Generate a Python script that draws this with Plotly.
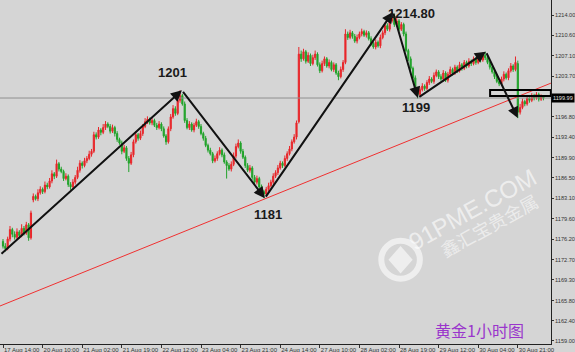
import plotly.graph_objects as go

# ---------------- data (hourly XAUUSD bars) ----------------
opens = [
 1175.8,1175.0,1174.6,1176.2,1177.8,1177.0,1176.5,1177.4,1176.8,1178.0,
 1177.2,1178.6,1176.4,1182.8,1183.4,1183.0,1184.0,1184.6,1184.2,1185.3,
 1185.0,1186.0,1187.2,1186.8,1188.9,1188.0,1187.6,1186.4,1186.8,1185.4,
 1185.0,1185.8,1186.6,1187.8,1189.0,1188.6,1189.4,1189.8,1190.5,1191.0,
 1193.8,1193.4,1194.6,1194.2,1195.0,1195.6,1195.2,1194.4,1195.0,1194.0,
 1193.0,1192.4,1191.0,1191.6,1189.8,1189.0,1190.4,1192.6,1193.8,1193.2,
 1194.0,1195.2,1196.0,1196.4,1195.8,1196.2,1195.4,1195.0,1195.6,1194.8,
 1193.6,1192.6,1194.8,1196.8,1198.2,1197.4,1199.6,1200.4,1199.0,1196.2,
 1195.0,1195.6,1194.6,1195.4,1196.0,1195.2,1194.0,1193.2,1192.0,1191.2,
 1190.6,1189.4,1189.8,1190.6,1191.2,1190.4,1189.2,1188.6,1188.0,1188.8,
 1190.2,1191.8,1192.4,1191.0,1190.0,1188.6,1187.8,1188.2,1186.6,1185.8,
 1186.4,1185.0,1184.2,1183.8,1184.6,1185.2,1185.8,1186.8,1187.4,1188.2,
 1189.0,1188.6,1189.8,1190.6,1191.4,1192.6,1193.4,1196.0,1207.4,1206.6,
 1207.8,1206.2,1207.2,1205.8,1206.8,1207.4,1205.6,1204.6,1205.8,1206.6,
 1205.4,1206.0,1204.8,1205.6,1204.2,1203.6,1204.8,1206.0,1210.8,1210.2,
 1211.0,1210.4,1209.6,1210.2,1210.8,1211.2,1210.6,1211.0,1210.0,1209.2,
 1208.6,1209.4,1208.8,1210.2,1211.0,1212.2,1211.6,1213.0,1213.8,1212.4,
 1213.0,1211.6,1212.4,1210.8,1208.0,1206.6,1205.0,1203.4,1201.2,1200.6,
 1201.4,1202.0,1201.6,1202.6,1203.2,1202.8,1203.8,1204.4,1203.6,1203.2,
 1204.2,1203.0,1204.0,1204.8,1204.2,1205.2,1204.6,1205.6,1205.0,1206.0,
 1205.4,1206.2,1205.8,1206.6,1206.0,1206.8,1206.4,1207.2,1206.8,1206.0,
 1205.2,1204.4,1203.6,1202.8,1202.4,1203.2,1204.0,1203.4,1204.6,1205.4,
 1204.8,1205.8,1197.6,1198.4,1199.4,1199.0,1200.0,1199.6,1200.4,1200.0,
 1200.6,1199.8,1200.2,
]
highs = [
 1176.2,1175.5,1176.6,1178.4,1178.1,1177.5,1178.0,1177.7,1178.7,1178.4,
 1179.1,1178.9,1181.0,1183.9,1183.7,1184.6,1185.1,1184.9,1185.9,1185.7,
 1186.5,1187.8,1187.5,1189.6,1189.2,1188.4,1187.9,1187.3,1187.1,1185.8,
 1186.3,1187.0,1188.4,1189.5,1189.3,1189.9,1190.2,1191.1,1191.4,1194.3,
 1194.2,1195.1,1194.9,1195.6,1196.1,1195.9,1195.6,1195.5,1195.3,1194.4,
 1193.3,1192.8,1192.1,1191.9,1190.2,1190.9,1193.0,1194.4,1194.1,1194.5,
 1195.6,1196.6,1196.9,1196.7,1196.6,1196.5,1195.8,1196.1,1195.9,1195.2,
 1193.9,1195.2,1197.3,1198.8,1198.6,1200.1,1201.3,1200.7,1199.4,1196.6,
 1196.1,1195.9,1195.8,1196.5,1196.3,1195.6,1194.3,1193.6,1192.3,1191.6,
 1190.9,1190.3,1191.0,1191.7,1191.5,1190.8,1189.5,1189.0,1189.3,1190.8,
 1192.3,1193.0,1192.7,1191.4,1190.3,1189.0,1188.7,1188.5,1187.0,1186.9,
 1186.7,1185.4,1184.5,1185.0,1185.7,1186.2,1187.3,1187.8,1188.7,1189.4,
 1189.3,1190.3,1191.0,1191.9,1193.0,1193.9,1196.2,1208.6,1208.0,1208.3,
 1208.1,1207.7,1207.5,1207.3,1208.0,1207.7,1206.0,1206.3,1207.0,1206.9,
 1206.5,1206.3,1206.0,1205.9,1204.6,1205.3,1206.4,1211.6,1211.2,1211.5,
 1211.3,1210.8,1210.7,1211.2,1211.7,1211.5,1211.4,1211.3,1210.4,1209.5,
 1209.9,1209.7,1210.7,1211.4,1212.7,1212.6,1213.5,1214.8,1214.2,1213.5,
 1213.3,1212.8,1212.7,1211.2,1208.3,1207.0,1205.3,1203.8,1201.5,1201.8,
 1202.5,1202.3,1203.0,1203.7,1203.5,1204.3,1204.8,1204.7,1204.0,1204.7,
 1204.5,1204.4,1205.3,1205.1,1205.6,1205.5,1206.1,1205.9,1206.4,1206.3,
 1206.7,1206.5,1207.0,1206.9,1207.2,1207.1,1207.6,1207.8,1207.1,1206.4,
 1205.5,1204.8,1203.9,1203.2,1203.6,1204.5,1204.3,1205.0,1205.9,1205.7,
 1207.0,1206.3,1199.0,1199.9,1199.7,1200.4,1200.3,1200.8,1200.7,1201.0,
 1200.9,1200.6,1200.5,
]
lows = [
 1174.6,1174.1,1174.3,1175.8,1176.5,1176.1,1176.2,1176.3,1176.5,1176.8,
 1176.9,1175.9,1176.1,1182.4,1182.7,1182.6,1183.7,1183.8,1183.9,1184.6,
 1184.7,1185.6,1186.3,1186.5,1187.6,1187.3,1186.0,1186.1,1185.0,1184.5,
 1184.7,1185.4,1186.3,1187.4,1188.1,1188.3,1189.0,1189.5,1190.1,1190.7,
 1193.0,1193.1,1193.7,1193.9,1194.6,1194.9,1194.0,1194.1,1193.5,1192.6,
 1192.1,1190.5,1190.7,1189.4,1187.5,1188.7,1190.0,1192.3,1192.8,1192.9,
 1193.6,1194.9,1195.6,1195.5,1195.4,1195.1,1194.6,1194.7,1194.4,1193.3,
 1192.1,1192.3,1194.4,1196.5,1197.0,1197.1,1199.2,1198.7,1195.8,1194.7,
 1194.6,1194.3,1194.2,1195.1,1194.8,1193.7,1192.8,1191.7,1190.8,1190.3,
 1189.0,1189.1,1189.4,1190.3,1190.0,1188.9,1186.4,1187.7,1187.6,1188.5,
 1189.8,1191.5,1190.6,1189.7,1188.2,1187.5,1187.4,1186.2,1185.5,1185.4,
 1184.7,1183.8,1183.1,1183.5,1184.2,1184.9,1185.4,1186.5,1187.0,1187.9,
 1188.2,1188.3,1189.4,1190.3,1191.0,1192.3,1193.0,1195.7,1206.1,1206.3,
 1205.8,1205.9,1205.4,1205.5,1206.4,1205.3,1204.2,1204.3,1205.4,1205.1,
 1205.0,1204.5,1204.4,1203.9,1203.0,1203.3,1204.4,1205.7,1209.8,1209.9,
 1210.0,1209.3,1209.2,1209.9,1210.4,1210.3,1210.2,1209.7,1208.8,1208.3,
 1208.2,1208.5,1208.4,1209.9,1210.6,1211.3,1211.2,1212.7,1212.0,1212.1,
 1211.2,1211.3,1210.4,1207.7,1206.2,1204.7,1203.0,1200.9,1199.9,1200.2,
 1201.1,1201.2,1201.3,1202.2,1202.5,1202.4,1203.5,1203.2,1202.9,1202.8,
 1202.7,1202.6,1203.7,1203.8,1203.9,1204.2,1204.3,1204.6,1204.7,1205.0,
 1205.1,1205.4,1205.5,1205.6,1205.7,1206.0,1206.1,1206.4,1205.7,1204.8,
 1204.1,1203.2,1202.5,1202.0,1202.1,1202.8,1203.1,1203.0,1204.3,1204.4,
 1204.5,1196.6,1197.2,1198.1,1198.6,1198.7,1199.2,1199.3,1199.6,1199.7,
 1199.4,1199.5,1199.6,
]
closes = [
 1175.0,1174.6,1176.2,1177.8,1177.0,1176.5,1177.4,1176.8,1178.0,1177.2,
 1178.6,1176.4,1180.6,1183.4,1183.0,1184.0,1184.6,1184.2,1185.3,1185.0,
 1186.0,1187.2,1186.8,1188.9,1188.0,1187.6,1186.4,1186.8,1185.4,1185.0,
 1185.8,1186.6,1187.8,1189.0,1188.6,1189.4,1189.8,1190.5,1191.0,1193.8,
 1193.4,1194.6,1194.2,1195.0,1195.6,1195.2,1194.4,1195.0,1194.0,1193.0,
 1192.4,1191.0,1191.6,1189.8,1189.0,1190.4,1192.6,1193.8,1193.2,1194.0,
 1195.2,1196.0,1196.4,1195.8,1196.2,1195.4,1195.0,1195.6,1194.8,1193.6,
 1192.6,1194.8,1196.8,1198.2,1197.4,1199.6,1200.4,1199.0,1196.2,1195.0,
 1195.6,1194.6,1195.4,1196.0,1195.2,1194.0,1193.2,1192.0,1191.2,1190.6,
 1189.4,1189.8,1190.6,1191.2,1190.4,1189.2,1188.6,1188.0,1188.8,1190.2,
 1191.8,1192.4,1191.0,1190.0,1188.6,1187.8,1188.2,1186.6,1185.8,1186.4,
 1185.0,1184.2,1183.8,1184.6,1185.2,1185.8,1186.8,1187.4,1188.2,1189.0,
 1188.6,1189.8,1190.6,1191.4,1192.6,1193.4,1195.8,1207.4,1206.6,1207.8,
 1206.2,1207.2,1205.8,1206.8,1207.4,1205.6,1204.6,1205.8,1206.6,1205.4,
 1206.0,1204.8,1205.6,1204.2,1203.6,1204.8,1206.0,1210.8,1210.2,1211.0,
 1210.4,1209.6,1210.2,1210.8,1211.2,1210.6,1211.0,1210.0,1209.2,1208.6,
 1209.4,1208.8,1210.2,1211.0,1212.2,1211.6,1213.0,1213.8,1212.4,1213.0,
 1211.6,1212.4,1210.8,1208.0,1206.6,1205.0,1203.4,1201.2,1200.6,1201.4,
 1202.0,1201.6,1202.6,1203.2,1202.8,1203.8,1204.4,1203.6,1203.2,1204.2,
 1203.0,1204.0,1204.8,1204.2,1205.2,1204.6,1205.6,1205.0,1206.0,1205.4,
 1206.2,1205.8,1206.6,1206.0,1206.8,1206.4,1207.2,1206.8,1206.0,1205.2,
 1204.4,1203.6,1202.8,1202.4,1203.2,1204.0,1203.4,1204.6,1205.4,1204.8,
 1206.0,1197.6,1198.4,1199.4,1199.0,1200.0,1199.6,1200.4,1200.0,1200.6,
 1199.8,1200.2,1199.99,
]
bars = list(range(len(closes)))

x_tick_bars = [0, 17, 34, 51, 68, 85, 102, 119, 136, 153, 170, 187, 204, 221]
x_tick_labels = ["17 Aug 14:00", "20 Aug 10:00", "21 Aug 02:00", "21 Aug 19:00",
                 "22 Aug 12:00", "23 Aug 04:00", "23 Aug 21:00", "24 Aug 14:00",
                 "27 Aug 10:00", "28 Aug 02:00", "28 Aug 19:00", "29 Aug 12:00",
                 "30 Aug 04:00", "30 Aug 21:00"]
y_tick_vals = [1214.00, 1210.60, 1207.10, 1203.70, 1196.80, 1193.40, 1189.90, 1186.50,
               1183.10, 1179.60, 1176.20, 1172.70, 1169.30, 1165.80, 1162.40, 1159.00]
last_price = 1199.99

# zig-zag wave points (bar, price) and their labels
wave_bars = [-1.3, 76.8, 112.4, 167.4, 178.1, 207.3, 221.0]
wave_prices = [1173.5, 1201.3, 1183.1, 1214.5, 1200.0, 1207.8, 1196.6]
wave_labels = [("1201", 72.9, 1204.3), ("1181", 113.9, 1180.3),
               ("1214.80", 175.2, 1214.2), ("1199", 177.3, 1198.4)]
# red support line (bar, price)
support_bars = [-1.3, 235.2]
support_prices = [1164.9, 1202.5]
# small box near the current price
box_bars = [209.1, 235.2]
box_prices = [1200.35, 1201.35]

BG = "#d5d5d5"
X_RANGE = [-1.29, 235.25]
Y_RANGE = [1158.49, 1216.53]

fig = go.Figure()

fig.add_trace(go.Candlestick(
    x=bars, open=opens, high=highs, low=lows, close=closes,
    increasing=dict(line=dict(color="#e8262a", width=1), fillcolor="#e8262a"),
    decreasing=dict(line=dict(color="#21a32a", width=1), fillcolor="#21a32a"),
    whiskerwidth=0, hoverinfo="skip", showlegend=False,
))

# current price line
fig.add_trace(go.Scatter(x=X_RANGE, y=[last_price, last_price], mode="lines",
                         line=dict(color="#8f8f8f", width=1), hoverinfo="skip",
                         showlegend=False))
# red support line
fig.add_trace(go.Scatter(x=support_bars, y=support_prices, mode="lines",
                         line=dict(color="#f03030", width=1), hoverinfo="skip",
                         showlegend=False))

annotations = []
# zig-zag arrows
for i in range(1, len(wave_bars)):
    annotations.append(dict(
        x=wave_bars[i], y=wave_prices[i], ax=wave_bars[i-1], ay=wave_prices[i-1],
        xref="x", yref="y", axref="x", ayref="y", text="", showarrow=True,
        arrowhead=2, arrowsize=1.1, arrowwidth=2, arrowcolor="#111111",
    ))
for txt, bx, py in wave_labels:
    annotations.append(dict(x=bx, y=py, xref="x", yref="y", text="<b>%s</b>" % txt,
                            showarrow=False, xanchor="center", yanchor="middle",
                            font=dict(family="Liberation Sans", size=13, color="#1a1a1a")))

# current price tag on the axis
annotations.append(dict(x=1, y=last_price, xref="paper", yref="y", xanchor="left",
                        yanchor="middle",
                        text="%.2f" % last_price, showarrow=False, bgcolor="#000000",
                        font=dict(family="Liberation Sans", size=5.6, color="#e0e0e0"),
                        borderpad=1))

# watermark
annotations.append(dict(x=0.857, y=0.39, xref="paper", yref="paper", text="91PME.COM",
                        showarrow=False, textangle=-29, xanchor="center", yanchor="middle",
                        font=dict(family="Liberation Sans", size=24, color="rgba(255,255,255,0.6)")))
annotations.append(dict(x=0.887, y=0.345, xref="paper", yref="paper", text="鑫汇宝贵金属",
                        showarrow=False, textangle=-29, xanchor="center", yanchor="middle",
                        font=dict(family="Noto Sans CJK SC", size=18, color="rgba(255,255,255,0.55)")))
# chart title
annotations.append(dict(x=0.871, y=0.04, xref="paper", yref="paper", text="黄金1小时图",
                        showarrow=False, xanchor="center", yanchor="middle",
                        font=dict(family="Noto Sans CJK SC", size=16, color="#9a35cc")))

shapes = [
    dict(type="rect", xref="x", yref="y", x0=box_bars[0], x1=box_bars[1],
         y0=box_prices[0], y1=box_prices[1], line=dict(color="#000000", width=2)),
    # watermark logo
    dict(type="circle", xref="paper", yref="paper", x0=0.692, x1=0.762, y0=0.19, y1=0.30,
         line=dict(color="rgba(255,255,255,0.6)", width=6)),
    dict(type="path", xref="paper", yref="paper",
         path="M 0.727 0.285 L 0.749 0.245 L 0.727 0.205 L 0.705 0.245 Z",
         fillcolor="rgba(255,255,255,0.6)", line=dict(width=0)),
]

fig.update_layout(
    width=575, height=352,
    margin=dict(l=0, r=24, t=0, b=8, autoexpand=False),
    paper_bgcolor=BG, plot_bgcolor=BG,
    annotations=annotations, shapes=shapes,
    xaxis=dict(range=X_RANGE, showgrid=False, zeroline=False, automargin=False,
               rangeslider=dict(visible=False),
               tickvals=x_tick_bars, ticktext=x_tick_labels, tickangle=0,
               ticks="outside", ticklen=3, tickcolor="#333333",
               ticklabelposition="outside right",
               tickfont=dict(family="Liberation Sans", size=6, color="#333333"),
               showline=True, linecolor="#222222", linewidth=1),
    yaxis=dict(range=Y_RANGE, side="right", showgrid=False, zeroline=False,
               automargin=False,
               tickvals=y_tick_vals, ticktext=["%.2f" % v for v in y_tick_vals],
               ticks="outside", ticklen=2, tickcolor="#333333",
               tickfont=dict(family="Liberation Sans", size=5.6, color="#333333"),
               showline=True, linecolor="#222222", linewidth=1),
    hovermode=False,
)

fig.write_html("out.html")
